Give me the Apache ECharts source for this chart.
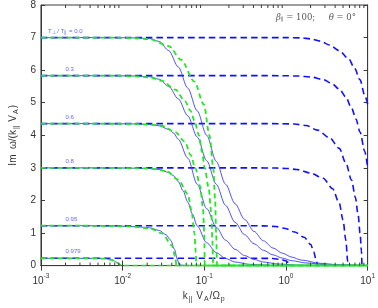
<!DOCTYPE html>
<html>
<head>
<meta charset="utf-8">
<script src="https://cdn.jsdelivr.net/npm/echarts@6/dist/echarts.min.js"></script>
<style>html,body{margin:0;padding:0;background:#fff}#c{width:378px;height:308px}</style>
</head>
<body>
<div id="c"></div>
<script>
// ---- data (k_par V_A / Omega_p , Im omega/(k V_A)) ----
const levels = [7.0, 5.831, 4.359, 3.0, 1.225, 0.224];
const levelLabels = ['0.0', '0.3', '0.6', '0.8', '0.95', '0.979'];
const xTickValues = [0.001, 0.01, 0.1, 1, 10];
const yTickValues = [0, 1, 2, 3, 4, 5, 6, 7, 8];

// solid blue curves
const solid00 = [[0.001,7.0],[0.003,7.0],[0.008,7.0],[0.014,6.99],[0.0215,6.97],[0.0281,6.88],[0.0367,6.6],[0.048,6.1],[0.0627,5.45],[0.0818,4.75],[0.107,4.0],[0.14,3.2],[0.182,2.5],[0.238,1.9],[0.311,1.42],[0.406,1.05],[0.53,0.76],[0.693,0.54],[0.905,0.38],[1.18,0.26],[1.54,0.17],[2.63,0.07],[4.49,0.025],[10,0]];
const solid03 = [[0.001,5.831],[0.003,5.83],[0.008,5.83],[0.014,5.82],[0.0215,5.8],[0.0281,5.72],[0.0367,5.5],[0.048,5.12],[0.0627,4.6],[0.0818,3.95],[0.107,3.22],[0.14,2.5],[0.182,1.85],[0.238,1.33],[0.311,0.95],[0.406,0.67],[0.53,0.47],[0.693,0.33],[0.905,0.23],[1.18,0.15],[1.76,0.08],[3.44,0.02],[10,0]];
const solid06 = [[0.001,4.359],[0.003,4.359],[0.008,4.355],[0.014,4.35],[0.0215,4.33],[0.0281,4.29],[0.0367,4.18],[0.042,4.07],[0.048,3.88],[0.0627,3.3],[0.0818,2.5],[0.107,1.75],[0.14,1.18],[0.182,0.78],[0.238,0.5],[0.311,0.31],[0.406,0.19],[0.53,0.11],[0.79,0.05],[1.54,0.01],[10,0]];
const solid08 = [[0.001,3.0],[0.003,3.0],[0.008,3.0],[0.014,2.99],[0.0215,2.98],[0.0281,2.95],[0.0367,2.86],[0.042,2.76],[0.048,2.58],[0.0549,2.3],[0.0627,1.95],[0.0716,1.58],[0.0818,1.22],[0.107,0.7],[0.14,0.4],[0.182,0.22],[0.238,0.11],[0.356,0.04],[0.693,0.005],[10,0]];
const solid095 = [[0.001,1.225],[0.003,1.225],[0.0074,1.22],[0.0126,1.2],[0.0175,1.18],[0.0215,1.16],[0.0281,1.08],[0.0339,0.95],[0.0388,0.78],[0.0431,0.5],[0.0467,0.2],[0.0493,0.02],[0.06,0],[0.2,0],[10,0]];
const solid0979 = [[0.001,0.224],[0.003,0.224],[0.005,0.222],[0.0061,0.215],[0.0074,0.18],[0.0085,0.1],[0.0093,0.03],[0.0097,0],[0.03,0],[10,0]];

// green dashed curves
const green00 = [[0.001,7.0],[0.003,7.0],[0.008,7.0],[0.014,6.98],[0.0215,6.95],[0.0367,6.74],[0.052,6.32],[0.0756,5.65],[0.0987,4.95],[0.1158,4.0],[0.1288,3.0],[0.1359,2.0],[0.1396,1.0],[0.1434,0],[0.3,0],[10,0]];
const green03 = [[0.001,5.831],[0.003,5.83],[0.008,5.83],[0.014,5.81],[0.0215,5.78],[0.0305,5.67],[0.0443,5.4],[0.0579,5.05],[0.0679,4.75],[0.0756,4.45],[0.0863,4.0],[0.0935,3.5],[0.1013,3.0],[0.1128,2.4],[0.1222,1.6],[0.1255,0.8],[0.1288,0],[0.3,0],[10,0]];
const green06 = [[0.001,4.359],[0.003,4.359],[0.008,4.355],[0.014,4.345],[0.0215,4.33],[0.0305,4.29],[0.0443,4.1],[0.0579,3.8],[0.0679,3.4],[0.0776,3.0],[0.0887,2.45],[0.0961,1.8],[0.1,1.0],[0.1013,0],[0.3,0],[10,0]];
const green08 = [[0.001,3.0],[0.003,3.0],[0.008,3.0],[0.014,2.99],[0.0215,2.98],[0.0339,2.91],[0.048,2.64],[0.0627,2.2],[0.0697,1.7],[0.0756,1.0],[0.0787,0.4],[0.0797,0],[0.3,0],[10,0]];
const green095 = [[0.001,1.225],[0.003,1.225],[0.0074,1.215],[0.0126,1.2],[0.0215,1.14],[0.0305,0.99],[0.0398,0.63],[0.0443,0.27],[0.0455,0],[0.2,0],[10,0]];
const green0979 = [[0.001,0.224],[0.003,0.224],[0.0061,0.215],[0.0074,0.17],[0.0085,0.09],[0.0093,0.02],[0.0097,0],[0.03,0],[10,0]];

// blue dashed curves
const dashed00 = [[0.001,7.0],[0.01,7.0],[0.1,7.0],[0.5,7.0],[1.0,7.0],[1.54,6.99],[2.015,6.96],[2.633,6.89],[3.437,6.77],[4.489,6.6],[5.863,6.35],[6.882,6.07],[8.075,5.7],[9.231,5.22],[10,4.95]];
const dashed03 = [[0.001,5.831],[0.01,5.831],[0.1,5.831],[0.5,5.831],[0.9,5.83],[1.38,5.82],[2.015,5.79],[2.852,5.71],[3.6,5.6],[4.489,5.42],[5.4,5.18],[6.352,4.84],[7.2,4.5],[8.075,4.1],[9.231,3.5],[10,3.0]];
const dashed06 = [[0.001,4.359],[0.01,4.359],[0.1,4.359],[0.5,4.359],[0.9,4.355],[1.28,4.345],[1.764,4.3],[2.43,4.16],[3.437,3.92],[4.489,3.6],[5.411,3.15],[6.352,2.63],[7.068,2.1],[7.657,1.55],[8.075,1.0],[8.4,0.45],[8.518,0]];
const dashed08 = [[0.001,3.0],[0.01,3.0],[0.1,3.0],[0.4,3.0],[0.75,2.995],[1.05,2.98],[1.35,2.95],[2.015,2.84],[2.852,2.68],[3.724,2.36],[4.489,1.92],[4.995,1.4],[5.411,0.78],[5.708,0.12],[5.78,0]];
const dashed095 = [[0.001,1.225],[0.01,1.225],[0.1,1.225],[0.3,1.225],[0.53,1.22],[0.75,1.2],[0.98,1.14],[1.28,1.03],[1.672,0.87],[2.015,0.65],[2.184,0.42],[2.365,0.13],[2.429,0]];
const dashed0979 = [[0.001,0.224],[0.01,0.224],[0.1,0.224],[0.4,0.224],[0.69,0.22],[0.86,0.19],[0.98,0.15],[1.12,0.07],[1.18,0]];

const minorTickValues = [];
[0.001, 0.01, 0.1, 1].forEach(function (d) { for (let m = 2; m <= 9; m++) minorTickValues.push(+(d * m).toPrecision(3)); });

// ---- styles ----
const blueDash = '#1010ff', blueSolid = '#3c3cff', greenDash = '#22e622';
const axisCol = '#3a3a3a', textCol = '#333';
const labelStart = [0.00122, 0.002, 0.002, 0.002, 0.002, 0.002];

const chart = echarts.init(document.getElementById('c'), null, {renderer: 'canvas'});

function lineSeries(data, color, width, dash, z) {
  return {type: 'line', data: data, showSymbol: false, symbol: 'none', smooth: 0.3, smoothMonotone: 'x',
    lineStyle: {color: color, width: width, type: dash ? dash : 'solid'}, z: z, silent: true, animation: false, clip: true};
}

const series = [];
[dashed00, dashed03, dashed06, dashed08, dashed095, dashed0979].forEach(function (d) { series.push(lineSeries(d, blueDash, 1.6, [6.5, 4], 2)); });
[solid00, solid03, solid06, solid08, solid095, solid0979].forEach(function (d) { series.push(lineSeries(d, blueSolid, 0.9, null, 3)); });
[green00, green03, green06, green08, green095, green0979].forEach(function (d) { series.push(lineSeries(d, greenDash, 1.8, [5, 3.5], 4)); });

// level labels
series.push({
  type: 'scatter', symbolSize: 0, silent: true, animation: false, z: 6,
  data: levels.map(function (v, i) { return [labelStart[i], v + 0.2]; }),
  label: {
    show: true, position: 'right', distance: 0, color: '#3a3aff', fontSize: 6, fontFamily: 'Liberation Sans',
    formatter: function (p) {
      const i = p.dataIndex;
      if (i === 0) return '{t|T}{s|⊥}{t| / T}{s|∥}{t| = ' + levelLabels[0] + '}';
      return '{t|' + levelLabels[i] + '}';
    },
    rich: {t: {fontSize: 6, color: '#3a3aff', fontFamily: 'Liberation Sans'}, s: {fontSize: 4.5, color: '#3a3aff', verticalAlign: 'bottom', padding: [3, 0, 0, 0]}}
  }
});

// minor log ticks (top and bottom edges)
series.push({
  type: 'custom', silent: true, animation: false, z: 10,
  data: minorTickValues.map(function (k) { return [k, 0]; }),
  renderItem: function (params, api) {
    const cs = params.coordSys;
    const x = api.coord([api.value(0), 0])[0];
    const yb = cs.y + cs.height, yt = cs.y;
    const st = {stroke: axisCol, lineWidth: 1};
    return {type: 'group', children: [
      {type: 'line', shape: {x1: x, y1: yb, x2: x, y2: yb - 3}, style: st},
      {type: 'line', shape: {x1: x, y1: yt, x2: x, y2: yt + 3}, style: st}
    ]};
  }
});

chart.setOption({
  animation: false,
  backgroundColor: '#fff',
  grid: {left: 25, right: 8, top: 4, bottom: 37, show: true, borderColor: axisCol, borderWidth: 1, backgroundColor: 'transparent'},
  xAxis: [{
    type: 'log', logBase: 10, min: 0.001, max: 10,
    name: '{t|k}{s|||}{t| V}{s|A}{t|/Ω}{s|p}', nameLocation: 'middle', nameGap: 20,
    nameTextStyle: {rich: {t: {fontSize: 10, color: textCol, fontFamily: 'Liberation Sans'}, s: {fontSize: 7, color: textCol, fontFamily: 'Liberation Sans', verticalAlign: 'bottom', padding: [6, 1, 0, 1]}}},
    axisLine: {show: true, lineStyle: {color: axisCol, width: 1}},
    axisTick: {show: true, inside: true, length: 5, lineStyle: {color: axisCol}},
    minorTick: {show: false},
    splitLine: {show: false},
    axisLabel: {
      margin: 7,
      formatter: function (v) { const e = Math.round(Math.log10(v)); return '{b|10}{p|' + e + '}'; },
      rich: {b: {fontSize: 10, color: textCol, fontFamily: 'Liberation Sans', verticalAlign: 'bottom', lineHeight: 14}, p: {fontSize: 6.5, color: textCol, fontFamily: 'Liberation Sans', verticalAlign: 'top', lineHeight: 14}}
    }
  }, {
    type: 'log', logBase: 10, min: 0.001, max: 10, position: 'top',
    axisLine: {show: true, lineStyle: {color: axisCol}},
    axisTick: {show: true, inside: true, length: 5, lineStyle: {color: axisCol}},
    axisLabel: {show: false}, splitLine: {show: false}
  }],
  yAxis: [{
    type: 'value', min: 0, max: 8, interval: 1,
    name: '{t|Im  ω/(k}{s|||}{t| V}{s|A}{t|)}', nameLocation: 'middle', nameGap: 15, nameRotate: 90,
    nameTextStyle: {rich: {t: {fontSize: 10, color: textCol, fontFamily: 'Liberation Sans'}, s: {fontSize: 7, color: textCol, fontFamily: 'Liberation Sans', verticalAlign: 'bottom', padding: [6, 1, 0, 1]}}},
    axisLine: {show: true, lineStyle: {color: axisCol}},
    axisTick: {show: true, inside: true, length: 4, lineStyle: {color: axisCol}},
    splitLine: {show: false},
    axisLabel: {margin: 5, fontSize: 10, color: textCol, fontFamily: 'Liberation Sans'}
  }, {
    type: 'value', min: 0, max: 8, interval: 1, position: 'right',
    axisLine: {show: true, lineStyle: {color: axisCol}},
    axisTick: {show: true, inside: true, length: 4, lineStyle: {color: axisCol}},
    axisLabel: {show: false}, splitLine: {show: false}
  }],
  graphic: [{
    type: 'text', right: 22, top: 13, silent: true,
    style: {
      text: '{i|β}{s|∥}{n| = 100;     }{i|θ}{n| = 0°}',
      rich: {i: {fontSize: 8.5, fontStyle: 'italic', fontFamily: 'DejaVu Serif', fill: '#555'}, n: {fontSize: 8.5, fontFamily: 'DejaVu Serif', fill: '#555'}, s: {fontSize: 5.5, fontFamily: 'DejaVu Serif', fill: '#555', verticalAlign: 'bottom', padding: [4, 0, 0, 0]}}
    }
  }],
  series: series
});
</script>
</body>
</html>
